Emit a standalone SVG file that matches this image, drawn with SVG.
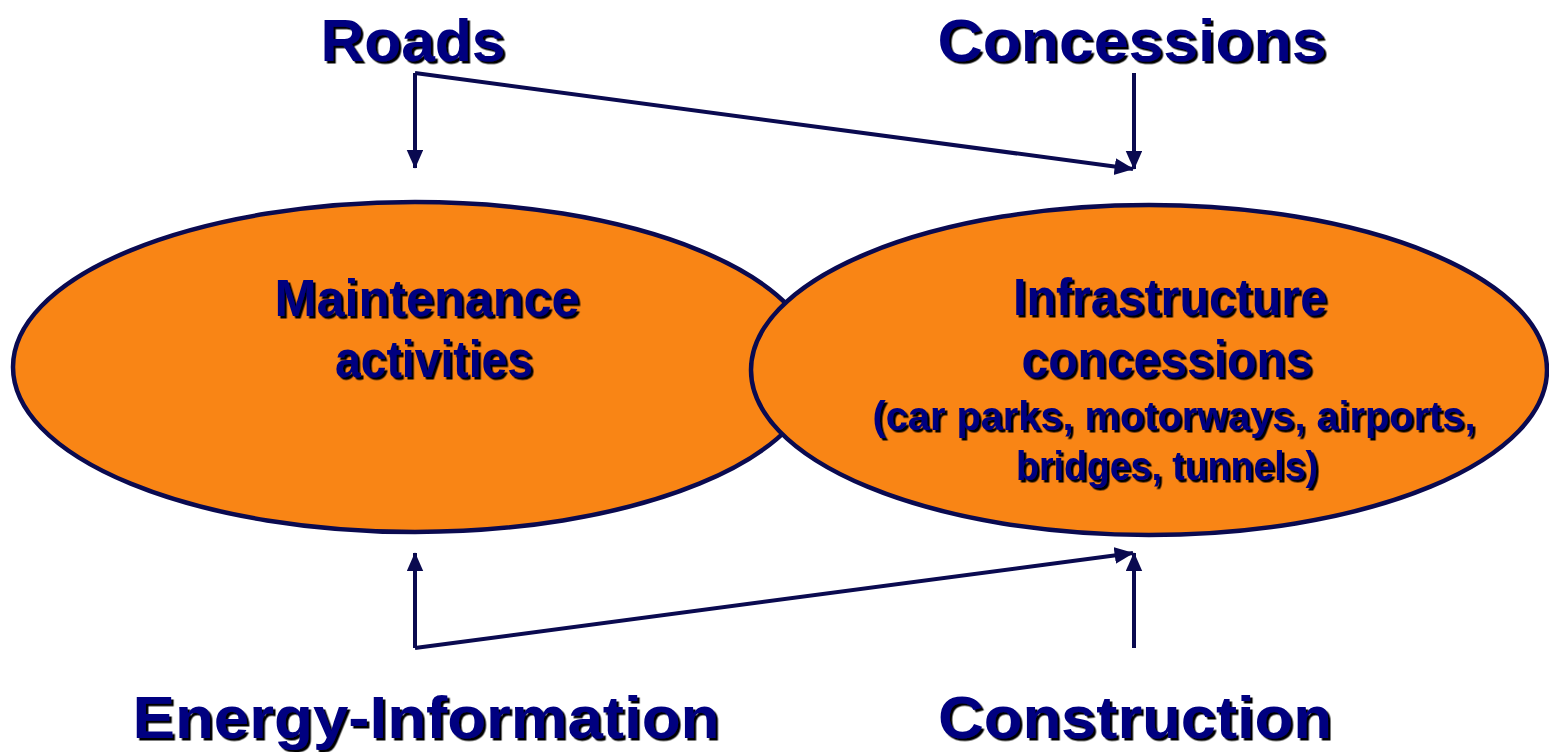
<svg xmlns="http://www.w3.org/2000/svg" width="1549" height="752" viewBox="0 0 1549 752">
<defs>
<style>
.t{font-family:"Liberation Sans",Arial,sans-serif;font-weight:bold;fill:#000080;text-anchor:middle;filter:url(#sh)}
.big{font-size:60px}
.mid{font-size:52px}
.sm{font-size:40px}
.el{fill:#F98515;stroke:#0A0A50;stroke-width:4.5}
.c{fill:none;stroke:#0A0A50;stroke-width:4;marker-end:url(#ah)}
</style>
<filter id="sh" x="-5%" y="-20%" width="110%" height="140%">
<feDropShadow dx="2.5" dy="2.5" stdDeviation="0" flood-color="#000000"/>
</filter>
<marker id="ah" markerWidth="6" markerHeight="6" refX="4.6" refY="2.1" orient="auto" markerUnits="strokeWidth">
<path d="M0,0 L4.8,2.1 L0,4.2 Z" fill="#0A0A50"/>
</marker>
</defs>
<g id="maintenance">
<ellipse class="el" cx="415" cy="367" rx="402" ry="165"/>
<text class="t mid" x="427" y="316" textLength="305" lengthAdjust="spacingAndGlyphs">Maintenance</text>
<text class="t mid" x="434" y="377" textLength="198" lengthAdjust="spacingAndGlyphs">activities</text>
</g>
<g id="infrastructure">
<ellipse class="el" cx="1149" cy="370" rx="398" ry="165"/>
<text class="t mid" x="1170" y="315" textLength="314" lengthAdjust="spacingAndGlyphs">Infrastructure</text>
<text class="t mid" x="1167" y="377" textLength="291" lengthAdjust="spacingAndGlyphs">concessions</text>
<text class="t sm" x="1174" y="430" textLength="603" lengthAdjust="spacingAndGlyphs">(car parks, motorways, airports,</text>
<text class="t sm" x="1167" y="480" textLength="302" lengthAdjust="spacingAndGlyphs">bridges, tunnels)</text>
</g>
<g id="roads"><text class="t big" x="413" y="61" textLength="185" lengthAdjust="spacingAndGlyphs">Roads</text></g>
<g id="concessions"><text class="t big" x="1132" y="61" textLength="389" lengthAdjust="spacingAndGlyphs">Concessions</text></g>
<g id="energy"><text class="t big" x="426" y="738" textLength="587" lengthAdjust="spacingAndGlyphs">Energy-Information</text></g>
<g id="construction"><text class="t big" x="1135" y="738" textLength="394" lengthAdjust="spacingAndGlyphs">Construction</text></g>
<g id="connectors">
<path class="c" d="M415,73 L415,168"/>
<path class="c" d="M415,73 L1133,169"/>
<path class="c" d="M1134,73 L1134,169"/>
<path class="c" d="M415,648 L415,553"/>
<path class="c" d="M415,648 L1133,553"/>
<path class="c" d="M1134,648 L1134,553"/>
</g>
</svg>
